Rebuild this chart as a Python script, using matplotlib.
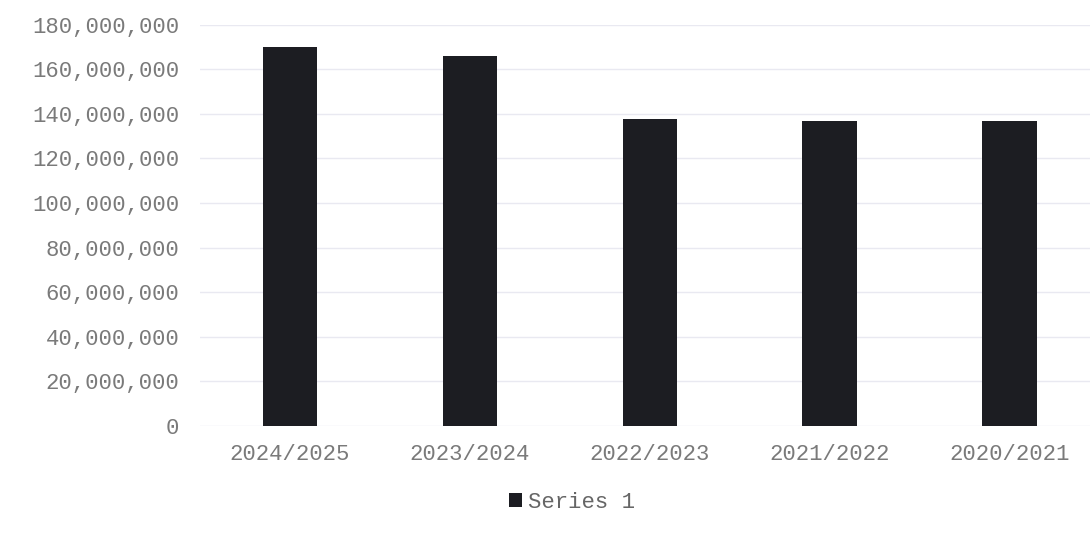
import matplotlib.pyplot as plt
from matplotlib.ticker import FuncFormatter

seasons = ["2024/2025", "2023/2024", "2022/2023", "2021/2022", "2020/2021"]
values = [170_000_000, 166_000_000, 137_800_000, 136_900_000, 136_900_000]
series_name = "Series 1"

plt.rcParams["font.family"] = ["Liberation Mono", "DejaVu Sans Mono"]

fig = plt.figure(figsize=(10.9, 5.37), dpi=100)
ax = fig.add_axes([200 / 1090, 1 - 426 / 537, 890 / 1090, (426 - 24.6) / 537])

ax.bar(range(len(seasons)), values, width=0.305, color="#1c1d22", label=series_name, zorder=2)

ax.set_ylim(0, 180_000_000)
ax.set_xlim(-0.5, 4.445)
ax.set_yticks(range(0, 180_000_001, 20_000_000))
ax.yaxis.set_major_formatter(FuncFormatter(lambda v, _: f"{int(v):,}"))
ax.set_xticks(range(len(seasons)))
ax.set_xticklabels(seasons)
ax.tick_params(axis="both", length=0, labelsize=16, labelcolor="#7a7a7a")
ax.tick_params(axis="y", pad=15)
ax.tick_params(axis="x", pad=13)
ax.grid(axis="y", color="#e9e9f1", linewidth=1, zorder=0)
for s in ax.spines.values():
    s.set_visible(False)

leg = fig.legend(loc="center", bbox_to_anchor=(572 / 1090, 1 - 502 / 537), frameon=False,
                 fontsize=16, handlelength=0.6, handleheight=0.6, handletextpad=0.3)
for t in leg.get_texts():
    t.set_color("#666666")

fig.savefig("out.png", dpi=100)
